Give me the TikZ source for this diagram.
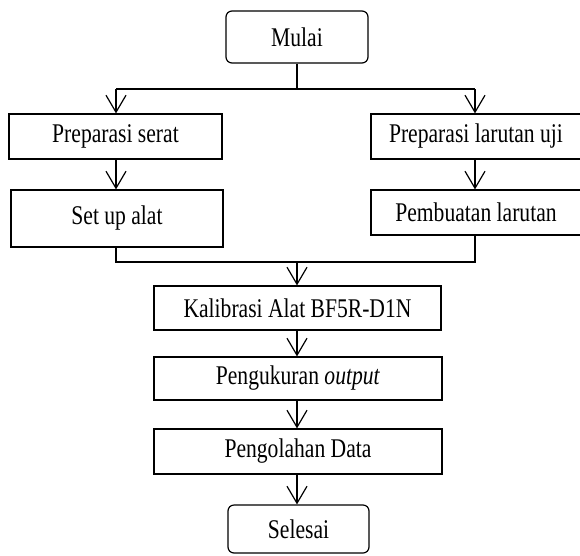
\documentclass[tikz,border=0pt]{standalone}
\usepackage{fontspec}
\setmainfont{Liberation Serif}[FakeStretch=0.8]
\usetikzlibrary{arrows.meta}

\tikzset{
  box/.style={draw, line width=1.2pt, inner sep=0pt, font=\fontsize{27}{32}\selectfont},
  term/.style={box, rounded corners=6pt},
  arr/.style={-{Straight Barb[length=17pt,width=20pt,line width=1.2pt]}},
}

\begin{document}
\begin{tikzpicture}[x=1pt, y=-1pt, line width=1.2pt]
  \clip (0,0) rectangle (580,555);
  % start / end
  \node[term, minimum width=142pt, minimum height=52pt] (mulai) at (297,37) {Mulai};
  \node[term, minimum width=141pt, minimum height=48pt] (selesai) at (298.5,529) {Selesai};
  % two branches
  \node[box, minimum width=213pt, minimum height=45pt] (prepserat) at (115.5,136.5) {Preparasi serat};
  \node[box, minimum width=212pt, minimum height=57pt] (setup) at (117,218.5) {Set up alat};
  \node[box, minimum width=210pt, minimum height=45pt] (preplar) at (476,136.5) {Preparasi larutan uji};
  \node[box, minimum width=210pt, minimum height=45pt] (pembuatan) at (476,212.5) {Pembuatan larutan};
  % main column
  \node[box, minimum width=287pt, minimum height=44pt] (kalibrasi) at (297.5,308) {Kalibrasi Alat BF5R-D1N};
  \node[box, minimum width=288pt, minimum height=43pt] (pengukuran) at (298,378.5) {Pengukuran \textit{output}};
  \node[box, minimum width=288pt, minimum height=45pt] (pengolahan) at (298,451.5) {Pengolahan Data};

  \coordinate (bl) at (116,89);
  \coordinate (br) at (475,89);
  \coordinate (jm) at (297,262);

  \draw (bl) -- (br);
  \draw (mulai) -- (mulai |- bl);
  \draw[arr] (bl) -- (bl |- prepserat.north);
  \draw[arr] (br) -- (br |- preplar.north);
  \draw[arr] (bl |- prepserat.south) -- (bl |- setup.north);
  \draw[arr] (br |- preplar.south) -- (br |- pembuatan.north);
  \draw (bl |- setup.south) |- (jm) -| (br |- pembuatan.south);
  \draw[arr] (jm) -- (jm |- kalibrasi.north);
  \draw[arr] (jm |- kalibrasi.south) -- (jm |- pengukuran.north);
  \draw[arr] (jm |- pengukuran.south) -- (jm |- pengolahan.north);
  \draw[arr] (jm |- pengolahan.south) -- (jm |- selesai.north);
\end{tikzpicture}
\end{document}
